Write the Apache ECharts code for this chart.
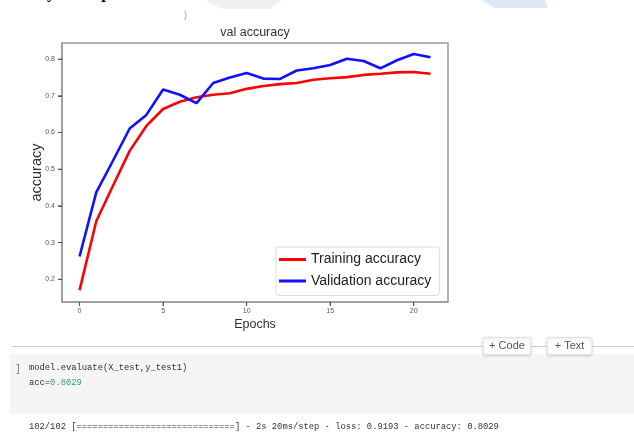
<!DOCTYPE html>
<html>
<head>
<meta charset="utf-8">
<title>val accuracy</title>
<script src="https://cdn.jsdelivr.net/npm/echarts@6/dist/echarts.min.js"></script>
<style>
  html, body { margin: 0; padding: 0; background: #fff; }
  #chart { width: 634px; height: 432px; }
</style>
</head>
<body>
<div id="chart"></div>
<script>
// epochs and the two accuracy curves
var epochs = [0, 1, 2, 3, 4, 5, 6, 7, 8, 9, 10, 11, 12, 13, 14, 15, 16, 17, 18, 19, 20, 21];
var trainAcc = [0.170, 0.358, 0.455, 0.550, 0.618, 0.664, 0.684, 0.696, 0.703, 0.707, 0.719,
                0.727, 0.732, 0.735, 0.744, 0.748, 0.751, 0.757, 0.760, 0.764, 0.765, 0.760];
var valAcc = [0.262, 0.437, 0.523, 0.611, 0.648, 0.717, 0.703, 0.680, 0.735, 0.750, 0.762,
              0.747, 0.746, 0.769, 0.775, 0.784, 0.801, 0.795, 0.775, 0.797, 0.814, 0.805];
var xTicks = [0, 5, 10, 15, 20];
var yTicks = [0.2, 0.3, 0.4, 0.5, 0.6, 0.7, 0.8];
var seriesNames = ['Training accuracy', 'Validation accuracy'];

var xMin = -1.05, xMax = 22.05, yMin = 0.138, yMax = 0.844;
var sans = '"Liberation Sans", Arial, sans-serif';
var mono = '"Liberation Mono", "DejaVu Sans Mono", monospace';

function pairs(xs, ys) {
    var out = [];
    for (var i = 0; i < xs.length; i++) {
        out.push([xs[i], ys[i]]);
    }
    return out;
}

// outward tick marks, placed through the axis scales
function tickSeries(values, isX) {
    return {
        type: 'custom', silent: true, z: 5, clip: false,
        data: values.map(function (v) { return isX ? [v, yMin] : [xMin, v]; }),
        encode: { x: 0, y: 1 },
        renderItem: function (params, api) {
            var p = api.coord([api.value(0), api.value(1)]);
            var shape = isX
                ? { x1: p[0], y1: p[1], x2: p[0], y2: p[1] + 4 }
                : { x1: p[0] - 4, y1: p[1], x2: p[0], y2: p[1] };
            return { type: 'line', shape: shape, style: { stroke: '#555', lineWidth: 1 } };
        }
    };
}

var myChart = echarts.init(document.getElementById('chart'), null, { renderer: 'canvas' });

var option = {
    animation: false,
    backgroundColor: '#fff',
    grid: {
        left: 62, top: 43, width: 386, height: 259,
        show: true, borderColor: '#9a9a9a', borderWidth: 1.5, backgroundColor: '#fff'
    },
    xAxis: {
        type: 'value', min: xMin, max: xMax,
        name: 'Epochs', nameLocation: 'middle', nameGap: 16, nameMoveOverlap: false,
        nameTextStyle: { fontFamily: sans, fontSize: 12.5, color: '#333' },
        axisLine: { show: true, onZero: false, lineStyle: { color: '#9a9a9a', width: 1.5 } },
        splitLine: { show: false },
        axisTick: { show: true, length: 4, customValues: xTicks, lineStyle: { color: '#555', width: 1 } },
        axisLabel: { customValues: xTicks, margin: 6, fontFamily: sans, fontSize: 7, color: '#555' }
    },
    yAxis: {
        type: 'value', min: yMin, max: yMax,
        name: 'accuracy', nameLocation: 'middle', nameGap: 18, nameMoveOverlap: false,
        nameTextStyle: { fontFamily: sans, fontSize: 14.5, color: '#333' },
        axisLine: { show: true, onZero: false, lineStyle: { color: '#9a9a9a', width: 1.5 } },
        splitLine: { show: false },
        axisTick: { show: true, length: 4, customValues: yTicks, lineStyle: { color: '#555', width: 1 } },
        axisLabel: {
            customValues: yTicks, margin: 7, fontFamily: sans, fontSize: 7, color: '#555',
            formatter: function (v) { return v.toFixed(1); }
        }
    },
    legend: {
        orient: 'vertical', left: 276, top: 247,
        padding: [4, 8, 6, 3], itemGap: 4.5,
        itemWidth: 27, itemHeight: 3, icon: 'rect',
        backgroundColor: 'rgba(255,255,255,0.85)',
        borderColor: '#dcdcdc', borderWidth: 1, borderRadius: 3,
        textStyle: { fontFamily: sans, fontSize: 14, lineHeight: 17, color: '#222' },
        data: seriesNames
    },
    series: [
        {
            name: seriesNames[0], type: 'line', data: pairs(epochs, trainAcc),
            symbol: 'none', itemStyle: { color: '#ff0000' },
            lineStyle: { color: '#ff0000', width: 2.6 }
        },
        {
            name: seriesNames[1], type: 'line', data: pairs(epochs, valAcc),
            symbol: 'none', itemStyle: { color: '#1010ff' },
            lineStyle: { color: '#1010ff', width: 2.6 }
        },
        tickSeries(xTicks, true),
        tickSeries(yTicks, false)
    ],
    graphic: [
        // cut-off scraps of the page above the figure
        { type: 'polygon', shape: { points: [[205, 0], [282, 0], [270, 9], [222, 9]] }, style: { fill: '#eef0f3' }, silent: true },
        { type: 'polygon', shape: { points: [[482, 0], [545, 0], [548, 8], [494, 8]] }, style: { fill: '#dfe8f6' }, silent: true },
        { type: 'text', x: 47, y: 2, style: { text: 'y', font: 'bold 18px "Liberation Serif", serif', fill: '#111', verticalAlign: 'bottom' } },
        { type: 'text', x: 101, y: 2, style: { text: 'p', font: 'bold 18px "Liberation Serif", serif', fill: '#111', verticalAlign: 'bottom' } },
        { type: 'text', x: 184, y: 16, style: { text: ')', font: '9px ' + sans, fill: '#8a98b8', verticalAlign: 'middle' } },
        // figure title
        { type: 'text', x: 255, y: 33, style: { text: 'val accuracy', font: '12.5px ' + sans, fill: '#333', align: 'center', verticalAlign: 'middle' } },
        // notebook toolbar
        { type: 'line', shape: { x1: 12, y1: 346.5, x2: 634, y2: 346.5 }, style: { stroke: '#cccccc', lineWidth: 1 } },
        { type: 'rect', shape: { x: 483, y: 337.5, width: 48, height: 17, r: 2 }, style: { fill: '#fff', stroke: '#e2e2e2', shadowBlur: 3, shadowColor: 'rgba(0,0,0,0.15)', shadowOffsetY: 1 } },
        { type: 'text', x: 507, y: 346, style: { text: '+ Code', font: '11px ' + sans, fill: '#555', align: 'center', verticalAlign: 'middle' } },
        { type: 'rect', shape: { x: 547, y: 337.5, width: 45, height: 17, r: 2 }, style: { fill: '#fff', stroke: '#e2e2e2', shadowBlur: 3, shadowColor: 'rgba(0,0,0,0.15)', shadowOffsetY: 1 } },
        { type: 'text', x: 569.5, y: 346, style: { text: '+ Text', font: '11px ' + sans, fill: '#555', align: 'center', verticalAlign: 'middle' } },
        // code cell
        { type: 'rect', shape: { x: 10, y: 354, width: 624, height: 60 }, style: { fill: '#f5f5f5' }, z: -1 },
        { type: 'text', x: 15, y: 369, style: { text: ']', font: '10px ' + mono, fill: '#777', verticalAlign: 'middle' } },
        { type: 'text', x: 29, y: 368, style: { text: 'model.evaluate(X_test,y_test1)', font: '8.8px ' + mono, fill: '#333', verticalAlign: 'middle' } },
        {
            type: 'text', x: 29, y: 383,
            style: {
                text: '{a|acc=}{b|0.8029}', verticalAlign: 'middle',
                rich: {
                    a: { fontFamily: mono, fontSize: 8.8, fill: '#333', color: '#333' },
                    b: { fontFamily: mono, fontSize: 8.8, fill: '#3a9a8c', color: '#3a9a8c' }
                }
            }
        },
        { type: 'text', x: 29, y: 427, style: { text: '102/102 [==============================] - 2s 20ms/step - loss: 0.9193 - accuracy: 0.8029', font: '8.8px ' + mono, fill: '#333', verticalAlign: 'middle' } }
    ]
};

myChart.setOption(option);

window.addEventListener('resize', function () {
    myChart.resize();
});
</script>
</body>
</html>
